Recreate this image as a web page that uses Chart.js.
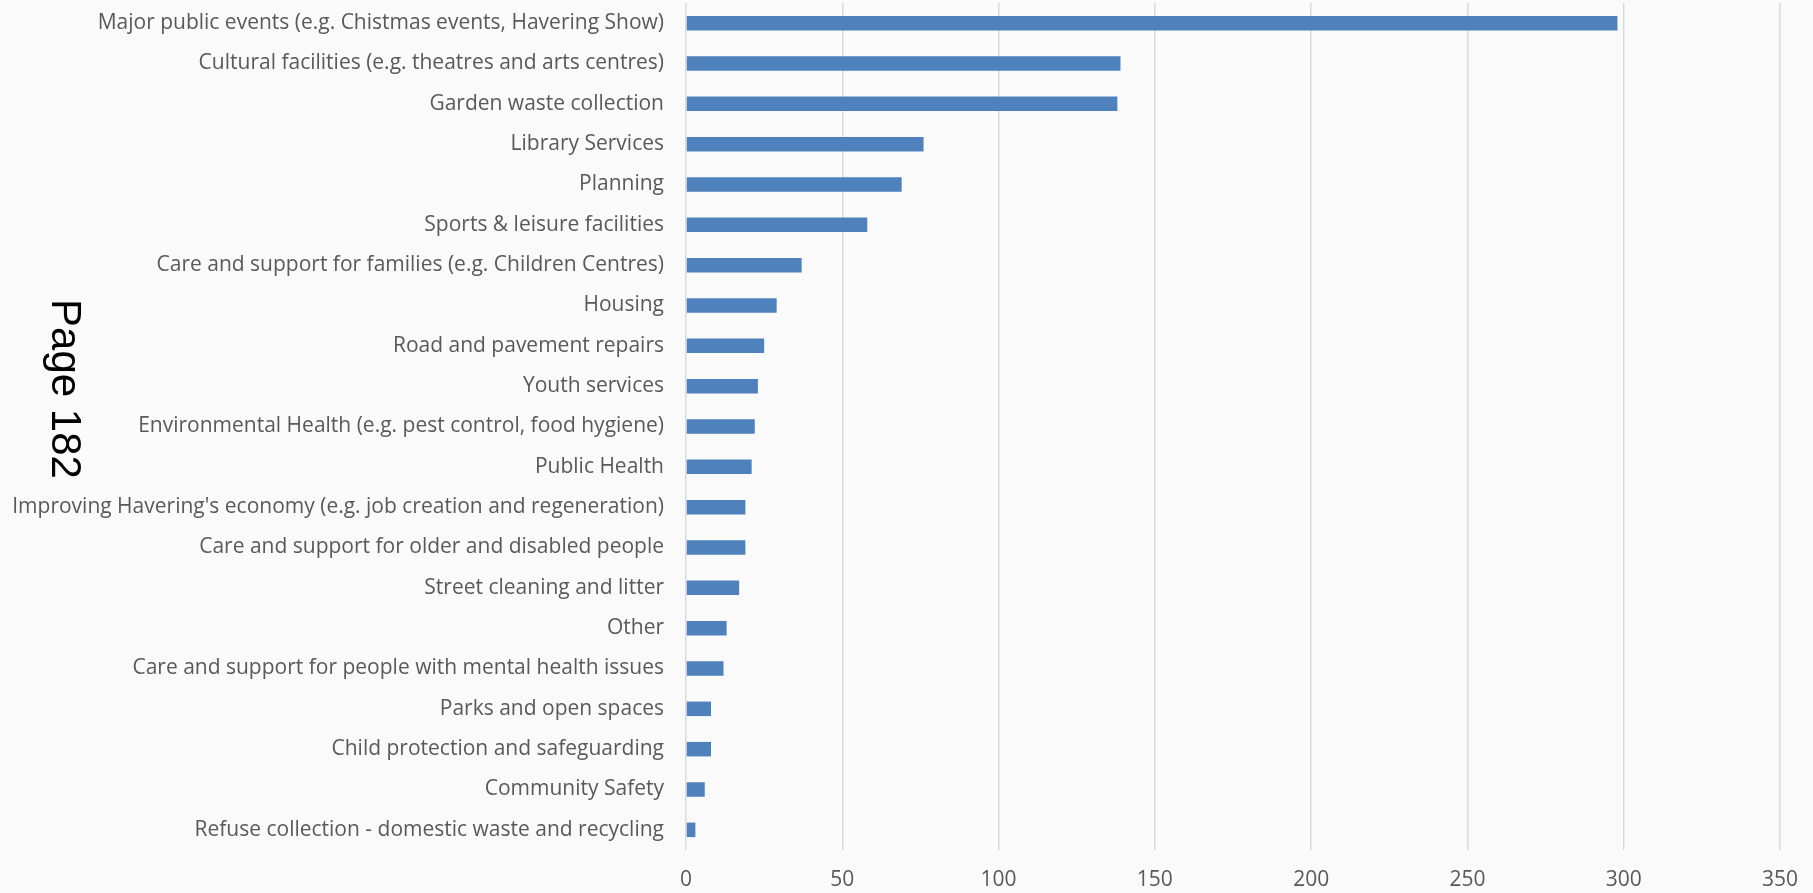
<!DOCTYPE html>
<html>
<head>
<meta charset="utf-8">
<script src="https://cdn.jsdelivr.net/npm/chart.js@4.4.1/dist/chart.umd.min.js"></script>
<style>
    html, body { margin: 0; padding: 0; background: #fafafa; }
    #wrap { width: 1813px; height: 893px; position: relative; }
</style>
</head>
<body>
<div id="wrap"><canvas id="servicios" width="1813" height="893"></canvas></div>
<script>
/* -----------------------------
   DATOS
----------------------------- */
const categorias = [
    "Major public events (e.g. Chistmas events, Havering Show)",
    "Cultural facilities (e.g. theatres and arts centres)",
    "Garden waste collection",
    "Library Services",
    "Planning",
    "Sports & leisure facilities",
    "Care and support for families (e.g. Children Centres)",
    "Housing",
    "Road and pavement repairs",
    "Youth services",
    "Environmental Health (e.g. pest control, food hygiene)",
    "Public Health",
    "Improving Havering's economy (e.g. job creation and regeneration)",
    "Care and support for older and disabled people",
    "Street cleaning and litter",
    "Other",
    "Care and support for people with mental health issues",
    "Parks and open spaces",
    "Child protection and safeguarding",
    "Community Safety",
    "Refuse collection - domestic waste and recycling"
];

const respuestas = [298, 139, 138, 76, 69, 58, 37, 29, 25, 23, 22, 21, 19, 19, 17, 13, 12, 8, 8, 6, 3];

const ticksX = [0, 50, 100, 150, 200, 250, 300, 350];

const textoPagina = "Page 182";

/* -----------------------------
   PLUGINS
----------------------------- */
const etiquetaPagina = {
    id: "etiquetaPagina",
    afterDraw(chart) {
        const ctx = chart.ctx;
        ctx.save();
        ctx.translate(64, 389);
        ctx.rotate(Math.PI / 2);
        ctx.font = "42px 'Liberation Sans', Arial, sans-serif";
        ctx.fillStyle = "#000000";
        ctx.textAlign = "center";
        ctx.textBaseline = "middle";
        ctx.fillText(textoPagina, 0, 0);
        ctx.restore();
    }
};

/* -----------------------------
   GRAFICA
----------------------------- */
const ctx = document.getElementById("servicios");

new Chart(ctx, {
    type: "bar",
    data: {
        labels: categorias,
        datasets: [{
            data: respuestas,
            backgroundColor: "#4F81BD",
            borderWidth: 0,
            categoryPercentage: 1,
            barPercentage: 0.36
        }]
    },
    options: {
        indexAxis: "y",
        responsive: false,
        animation: false,
        devicePixelRatio: 1,
        layout: {
            padding: { top: 3, right: 33, left: 0, bottom: 0 }
        },
        plugins: {
            legend: { display: false },
            tooltip: { enabled: false }
        },
        scales: {
            x: {
                min: 0,
                max: 350,
                afterBuildTicks: (scale) => {
                    scale.ticks = ticksX.map(v => ({ value: v }));
                },
                afterFit: (scale) => {
                    scale.height = 43;
                    scale.paddingLeft = 0;
                    scale.paddingRight = 0;
                },
                grid: {
                    color: "#d9d9d9",
                    lineWidth: 1.5,
                    drawTicks: false
                },
                border: { display: false },
                ticks: {
                    color: "#595959",
                    padding: 17,
                    font: { family: "'Open Sans', sans-serif", size: 21 }
                }
            },
            y: {
                afterFit: (scale) => {
                    scale.width = 686;
                    scale.paddingTop = 0;
                    scale.paddingBottom = 0;
                },
                grid: { display: false, drawTicks: false },
                border: { display: false },
                ticks: {
                    color: "#595959",
                    padding: 22,
                    autoSkip: false,
                    font: { family: "'Open Sans', sans-serif", size: 21 }
                }
            }
        }
    },
    plugins: [etiquetaPagina]
});
</script>
</body>
</html>
